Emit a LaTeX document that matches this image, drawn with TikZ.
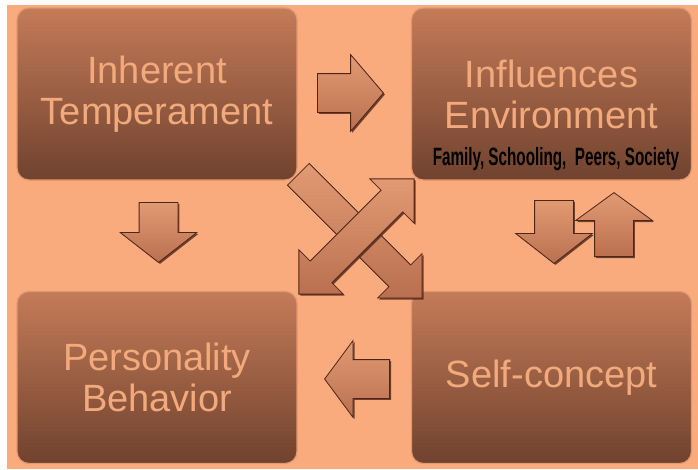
\documentclass[tikz,border=0pt]{standalone}
\usepackage{fontspec}
\setmainfont{Liberation Sans}
\usetikzlibrary{shapes.arrows,shadows}

\definecolor{peach}{RGB}{250,171,126}
\definecolor{boxtop}{RGB}{196,123,88}
\definecolor{boxbot}{RGB}{112,66,46}
\definecolor{boxrim}{RGB}{224,152,112}
\definecolor{boxtext}{RGB}{242,170,124}
\definecolor{arrowlight}{RGB}{226,154,115}
\definecolor{arrowfill}{RGB}{186,112,80}
\definecolor{arrowedge}{RGB}{78,38,24}

\tikzset{
  box/.style={rectangle, rounded corners=12pt, minimum width=280pt, minimum height=172pt,
    inner sep=0pt, draw=boxrim, line width=1.2pt, top color=boxtop, bottom color=boxbot,
    text=boxtext, align=center, font=\fontsize{38}{41}\selectfont},
  blockarrow/.style={single arrow, inner xsep=0pt, inner ysep=19pt, minimum height=63pt,
    single arrow head extend=19pt, single arrow tip angle=104,
    draw=arrowedge, line width=0.8pt, top color=arrowlight, bottom color=arrowfill,
    drop shadow={shadow xshift=1.5pt, shadow yshift=-1.5pt, fill=arrowedge, opacity=0.8}},
  crossarrow/.style={blockarrow, inner ysep=15pt, single arrow head extend=16pt,
    single arrow tip angle=90},
  factors/.style={text=black, font=\fontsize{25}{25}\selectfont\bfseries, inner sep=0pt}
}

\begin{document}
\begin{tikzpicture}[x=1pt, y=-1pt]
        % Page and background
        \useasboundingbox (0,0) rectangle (698,469);
        \fill[white] (0,0) rectangle (698,469);
        \fill[peach] (7,5) rectangle (698,469);

        % The four boxes
        \node[box] (temper) at (157,94) {Inherent\\Temperament};
        \node[box] (influ) at (551.5,94) {Influences\\Environment};
        \node[box] (persona) at (157,377.5) {Personality\\Behavior};
        \node[box] (selfcon) at (551.5,377.5) {Self-concept};
        \node[factors] (fam) at (556,159) {\scalebox{0.61}[1]{Family, Schooling,~~Peers, Society}};

        % Straight arrows
        \node[blockarrow, anchor=tail, minimum height=66pt, single arrow tip angle=99] (toinflu) at (317,93) {};
        \node[blockarrow, anchor=tail, rotate=-90, minimum height=60pt] (topersona) at (158.5,202) {};
        \node[blockarrow, anchor=tail, rotate=180, minimum height=65pt, single arrow tip angle=107] (fromself) at (390,379) {};
        \node[blockarrow, anchor=tail, rotate=-90] (toself) at (554,200) {};
        \node[blockarrow, anchor=tail, rotate=90, minimum height=64pt, single arrow tip angle=108] (backinflu) at (614,257) {};

        % Cross arrows
        \node[crossarrow, anchor=tail, rotate=-45, minimum height=175pt] (diagself) at (298,174) {};
        \node[crossarrow, double arrow, rotate=45, minimum height=163pt,
          double arrow head extend=16pt, double arrow tip angle=90] (diagboth) at (356.5,236.5) {};
\end{tikzpicture}
\end{document}
